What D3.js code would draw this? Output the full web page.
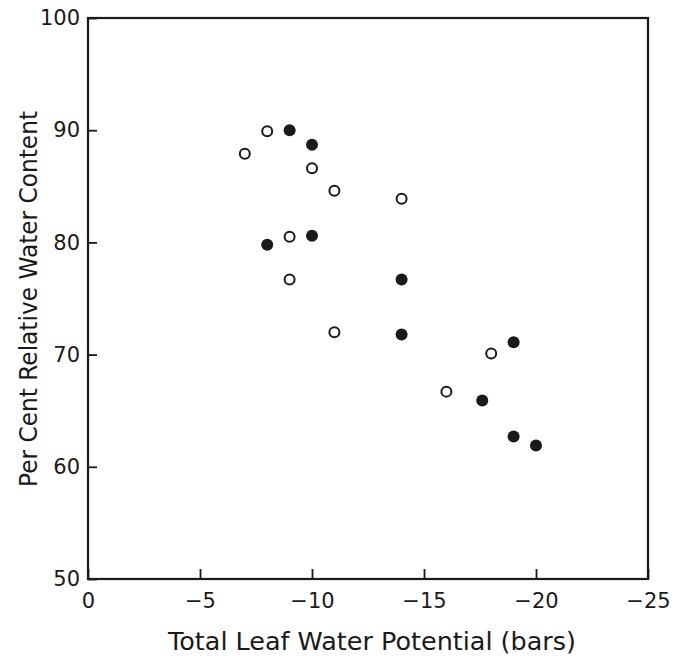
<!DOCTYPE html>
<html>
<head>
<meta charset="utf-8">
<script src="https://cdn.jsdelivr.net/npm/d3@7"></script>
<style>
  body { margin: 0; background: #fff; }
  text { font-family: "DejaVu Sans", sans-serif; fill: #1a1a1a; }
</style>
</head>
<body>
<div id="chart"></div>
<script>
// open circles (hollow markers)
const openX = [-7, -8, -10, -11, -14, -9, -9, -11, -18, -16];
const openY = [87.9, 89.9, 86.6, 84.6, 83.9, 80.5, 76.7, 72.0, 70.1, 66.7];
// filled circles
const filledX = [-9, -10, -8, -10, -14, -14, -19, -17.6, -19, -20];
const filledY = [90.0, 88.7, 79.8, 80.6, 76.7, 71.8, 71.1, 65.9, 62.7, 61.9];

const xTicks = [0, -5, -10, -15, -20, -25];
const yTicks = [50, 60, 70, 80, 90, 100];
const xTitle = "Total Leaf Water Potential (bars)";
const yTitle = "Per Cent Relative Water Content";

const width = 684, height = 656;
const margin = {top: 18, right: 36, bottom: 77, left: 88};

const svg = d3.select("#chart")
    .append("svg")
    .attr("width", width)
    .attr("height", height);

const x = d3.scaleLinear()
    .domain([0, -25])
    .range([margin.left, width - margin.right]);

const y = d3.scaleLinear()
    .domain([50, 100])
    .range([height - margin.bottom, margin.top]);

const fmt = d => d === 0 ? "0" : "\u2212" + Math.abs(d);

// x axis, ticks pointing inward
const xAxis = svg.append("g")
    .attr("transform", `translate(0,${y(50)})`)
    .call(d3.axisBottom(x)
        .tickValues(xTicks)
        .tickFormat(fmt)
        .tickSizeInner(-10)
        .tickSizeOuter(0)
        .tickPadding(14));
xAxis.select(".domain").remove();
xAxis.selectAll("line").attr("stroke", "#1a1a1a").attr("stroke-width", 1.8);
xAxis.selectAll("text").style("font-size", "21px").style("font-family", "DejaVu Sans");

// y axis
const yAxis = svg.append("g")
    .attr("transform", `translate(${x(0)},0)`)
    .call(d3.axisLeft(y)
        .tickValues(yTicks)
        .tickSizeInner(-9)
        .tickSizeOuter(0)
        .tickPadding(8));
yAxis.select(".domain").remove();
yAxis.selectAll("line").attr("stroke", "#1a1a1a").attr("stroke-width", 1.8);
yAxis.selectAll("text").style("font-size", "21px").style("font-family", "DejaVu Sans");

// frame
svg.append("rect")
    .attr("x", x(0))
    .attr("y", y(100))
    .attr("width", x(-25) - x(0))
    .attr("height", y(50) - y(100))
    .attr("fill", "none")
    .attr("stroke", "#1a1a1a")
    .attr("stroke-width", 2.2);

// points
const openData = openX.map((v, i) => ({x: v, y: openY[i]}));
const filledData = filledX.map((v, i) => ({x: v, y: filledY[i]}));

svg.selectAll("circle.open")
    .data(openData)
    .enter().append("circle")
    .attr("class", "open")
    .attr("cx", d => x(d.x))
    .attr("cy", d => y(d.y))
    .attr("r", 5)
    .attr("fill", "#fff")
    .attr("stroke", "#1a1a1a")
    .attr("stroke-width", 2);

svg.selectAll("circle.filled")
    .data(filledData)
    .enter().append("circle")
    .attr("class", "filled")
    .attr("cx", d => x(d.x))
    .attr("cy", d => y(d.y))
    .attr("r", 6)
    .attr("fill", "#1a1a1a");

// axis titles
svg.append("text")
    .attr("x", 372)
    .attr("y", 650)
    .attr("text-anchor", "middle")
    .attr("textLength", 408)
    .attr("lengthAdjust", "spacingAndGlyphs")
    .style("font-size", "25px")
    .text(xTitle);

svg.append("text")
    .attr("transform", "translate(37,299) rotate(-90)")
    .attr("text-anchor", "middle")
    .attr("textLength", 376)
    .attr("lengthAdjust", "spacingAndGlyphs")
    .style("font-size", "24px")
    .text(yTitle);
</script>
</body>
</html>
